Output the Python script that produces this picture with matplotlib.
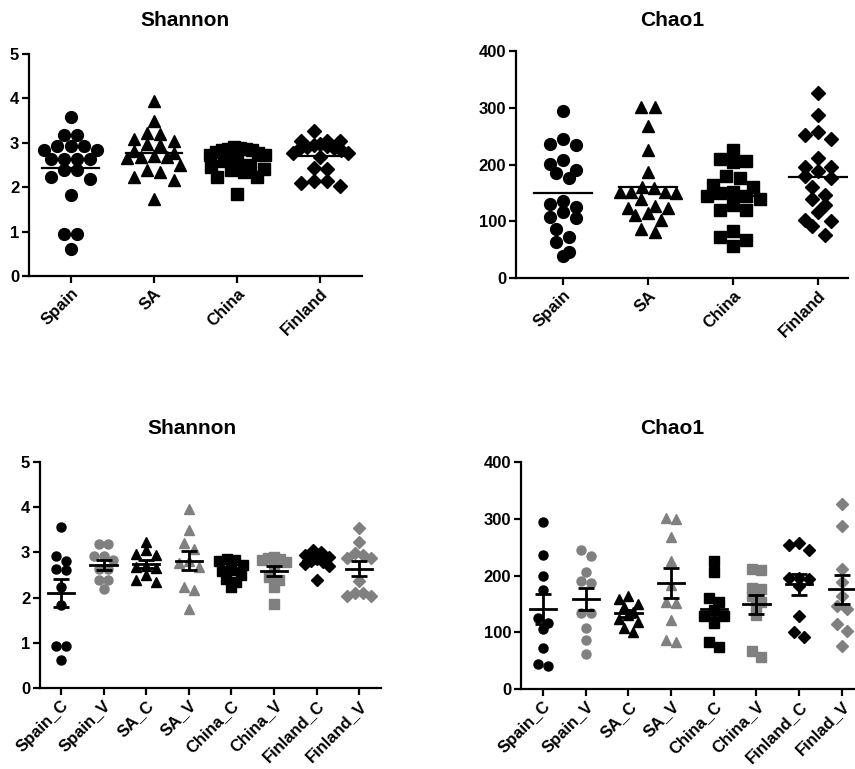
import numpy as np
import matplotlib
matplotlib.use("Agg")
import matplotlib.pyplot as plt

plt.rcParams["font.family"] = ["Liberation Sans", "DejaVu Sans"]
plt.rcParams["font.weight"] = "bold"

# ---- data ----
groups_top = ["Spain", "SA", "China", "Finland"]
groups_sh_bot = ["Spain_C", "Spain_V", "SA_C", "SA_V", "China_C", "China_V", "Finland_C", "Finland_V"]
groups_ch_bot = ["Spain_C", "Spain_V", "SA_C", "SA_V", "China_C", "China_V", "Finland_C", "Finlad_V"]

# Shannon, top panel
sh_spain = [3.59, 3.18, 3.18, 2.93, 2.93, 2.93, 2.84, 2.84, 2.63, 2.63, 2.63, 2.63,
            2.39, 2.38, 2.23, 2.18, 1.83, 0.94, 0.94, 0.61]
sh_sa = [3.95, 3.50, 3.05, 3.20, 3.22, 3.08, 2.95, 2.97, 2.71, 2.68, 2.82, 2.65,
         2.67, 2.77, 2.38, 2.50, 2.35, 2.24, 2.17, 1.74]
sh_china = [2.86, 2.84, 2.80, 2.72, 2.62, 2.58, 2.50, 2.42, 2.35, 2.24,
            2.90, 2.88, 2.86, 2.83, 2.78, 2.72, 2.45, 2.38, 2.24, 1.85]
sh_finland = [3.26, 3.05, 3.05, 3.03, 2.98, 2.95, 2.93, 2.90, 2.88, 2.88, 2.84, 2.78,
              2.76, 2.69, 2.43, 2.41, 2.13, 2.13, 2.09, 2.03]

# Chao1, top panel
ch_spain = [294, 245, 235, 236, 208, 201, 191, 177, 185, 130, 135, 125, 116, 106,
            107, 87, 72, 63, 39, 45]
ch_sa = [301, 302, 268, 225, 186, 161, 152, 151, 139, 150, 151, 158, 126, 123,
         124, 114, 111, 103, 81, 87]
ch_china = [225, 207, 205, 210, 176, 179, 163, 161, 152, 145, 150, 139, 128, 119,
            119, 73, 82, 67, 56, 145]
ch_finland = [326, 287, 252, 245, 258, 211, 196, 189, 195, 177, 179, 161, 147, 140,
              128, 116, 100, 103, 91, 76]

# Shannon, bottom panel
sh_spain_c = [3.57, 2.92, 2.81, 2.63, 2.61, 2.23, 1.83, 0.93, 0.93, 0.62]
sh_spain_v = [3.18, 3.18, 2.93, 2.93, 2.84, 2.63, 2.63, 2.39, 2.38, 2.18]
sh_sa_c = [3.22, 3.05, 2.97, 2.95, 2.71, 2.68, 2.65, 2.50, 2.38, 2.35]
sh_sa_v = [3.95, 3.50, 3.20, 3.08, 2.82, 2.77, 2.67, 2.24, 2.17, 1.74]
sh_china_c = [2.86, 2.84, 2.80, 2.72, 2.62, 2.58, 2.50, 2.42, 2.35, 2.24]
sh_china_v = [2.90, 2.88, 2.86, 2.83, 2.78, 2.72, 2.45, 2.38, 2.24, 1.85]
sh_finland_c = [3.06, 3.00, 2.95, 2.90, 2.86, 2.82, 2.78, 2.74, 2.70, 2.38]
sh_finland_v = [3.53, 3.22, 2.98, 2.94, 2.88, 2.88, 2.36, 2.11, 2.03, 2.04, 2.11]

# Chao1, bottom panel
ch_spain_c = [294, 237, 200, 175, 125, 116, 105, 72, 40, 44]
ch_spain_v = [234, 245, 191, 187, 207, 134, 134, 107, 87, 62]
ch_sa_c = [163, 158, 150, 145, 136, 130, 124, 118, 108, 100]
ch_sa_v = [300, 301, 268, 225, 184, 151, 153, 122, 82, 87]
ch_china_c = [225, 206, 154, 161, 140, 128, 128, 116, 74, 82]
ch_china_v = [211, 209, 176, 178, 163, 154, 146, 130, 56, 67]
ch_finland_c = [254, 245, 258, 196, 193, 196, 181, 128, 92, 100]
ch_finland_v = [326, 287, 212, 188, 163, 146, 141, 115, 102, 75]

GRAY = "#808080"
W, H = 855, 769


def swarm(vals, ax, xc, diam, half):
    # GraphPad-like rows: points closer than a marker in y share a row,
    # spread symmetrically, squeezed if the row gets too wide
    tr = ax.transData
    vals = np.asarray(vals, float)
    ypx = tr.transform(np.column_stack([np.full(len(vals), xc), vals]))[:, 1]
    ppu = tr.transform((xc + 1, 0))[0] - tr.transform((xc, 0))[0]
    order = np.argsort(-ypx, kind="stable")
    rows = []
    for i in order:
        if rows and ypx[rows[-1][0]] - ypx[i] < diam * 0.9:
            rows[-1].append(i)
        else:
            rows.append([i])
    xs = np.full(len(vals), float(xc))
    for row in rows:
        n = len(row)
        if n == 1:
            continue
        step = min(diam * 1.15, 2 * half * ppu / (n - 1))
        offs = (np.arange(n) - (n - 1) / 2) * step
        slots = np.argsort(np.abs(offs) + 1e-6 * np.arange(n), kind="stable")
        for j, i in enumerate(row):
            xs[i] = xc + offs[slots[j]] / ppu
    return xs


def style(ax, labels, ylim, yticks):
    ax.set_ylim(*ylim)
    ax.set_yticks(yticks)
    ax.set_xticks(range(len(labels)))
    ax.set_xticklabels(labels, rotation=45, ha="right", rotation_mode="anchor",
                       fontsize=12, fontweight="bold")
    for t in ax.get_yticklabels():
        t.set_fontsize(12)
        t.set_fontweight("bold")
    for s in ["top", "right"]:
        ax.spines[s].set_visible(False)
    for s in ["left", "bottom"]:
        ax.spines[s].set_linewidth(1.6)
    ax.tick_params(width=1.6, length=5, pad=2)


def axes_px(fig, x0, x1, ytop, ybot):
    return fig.add_axes([x0 / W, 1 - ybot / H, (x1 - x0) / W, (ybot - ytop) / H])


fig = plt.figure(figsize=(W / 100, H / 100), dpi=100)

# top panels: mean line only
top_markers = ["o", "^", "s", "D"]
top_sizes = [8.5, 9, 8.5, 7.5]
for (x0, x1, yt, yb, xl, data, ylim, yticks) in [
        (29, 362, 54, 276, (-0.5, 3.5), [sh_spain, sh_sa, sh_china, sh_finland], (0, 5), range(0, 6)),
        (516, 848, 51, 278, (-0.55, 3.35), [ch_spain, ch_sa, ch_china, ch_finland], (0, 400), range(0, 401, 100))]:
    ax = axes_px(fig, x0, x1, yt, yb)
    ax.set_xlim(*xl)
    style(ax, groups_top, ylim, yticks)
    for i, vals in enumerate(data):
        xs = swarm(vals, ax, i, 11.5, 0.33)
        ax.plot(xs, vals, linestyle="none", marker=top_markers[i], ms=top_sizes[i],
                color="black", clip_on=False)
        m = np.mean(vals)
        ax.plot([i - 0.34, i + 0.34], [m, m], color="black", lw=1.6)

# bottom panels: mean +/- SEM
bot_markers = ["o", "o", "^", "^", "s", "s", "D", "D"]
bot_sizes = [6.5, 6.5, 7, 7, 6.5, 6.5, 5.8, 5.8]
bot_colors = ["black", GRAY] * 4
for (x0, x1, yt, yb, xl, data, labels, ylim, yticks) in [
        (40, 381, 462, 688, (-0.49, 7.51),
         [sh_spain_c, sh_spain_v, sh_sa_c, sh_sa_v, sh_china_c, sh_china_v, sh_finland_c, sh_finland_v],
         groups_sh_bot, (0, 5), range(0, 6)),
        (521, 855, 462, 689, (-0.52, 7.31),
         [ch_spain_c, ch_spain_v, ch_sa_c, ch_sa_v, ch_china_c, ch_china_v, ch_finland_c, ch_finland_v],
         groups_ch_bot, (0, 400), range(0, 401, 100))]:
    ax = axes_px(fig, x0, x1, yt, yb)
    ax.set_xlim(*xl)
    style(ax, labels, ylim, yticks)
    for i, vals in enumerate(data):
        xs = swarm(vals, ax, i, 8.5, 0.28)
        ax.plot(xs, vals, linestyle="none", marker=bot_markers[i], ms=bot_sizes[i],
                color=bot_colors[i], clip_on=False, zorder=2)
        m = np.mean(vals)
        sem = np.std(vals, ddof=1) / np.sqrt(len(vals))
        ax.plot([i - 0.31, i + 0.31], [m, m], color="black", lw=2, zorder=3)
        ax.errorbar([i], [m], yerr=[sem], fmt="none", ecolor="black", elinewidth=2,
                    capsize=6, capthick=2, zorder=3)

for (x, y, s) in [(185, 20, "Shannon"), (672, 20, "Chao1"),
                  (192, 428, "Shannon"), (672, 428, "Chao1")]:
    fig.text(x / W, 1 - y / H, s, ha="center", va="center", fontsize=15, fontweight="bold")

fig.savefig("out.png", dpi=100)
